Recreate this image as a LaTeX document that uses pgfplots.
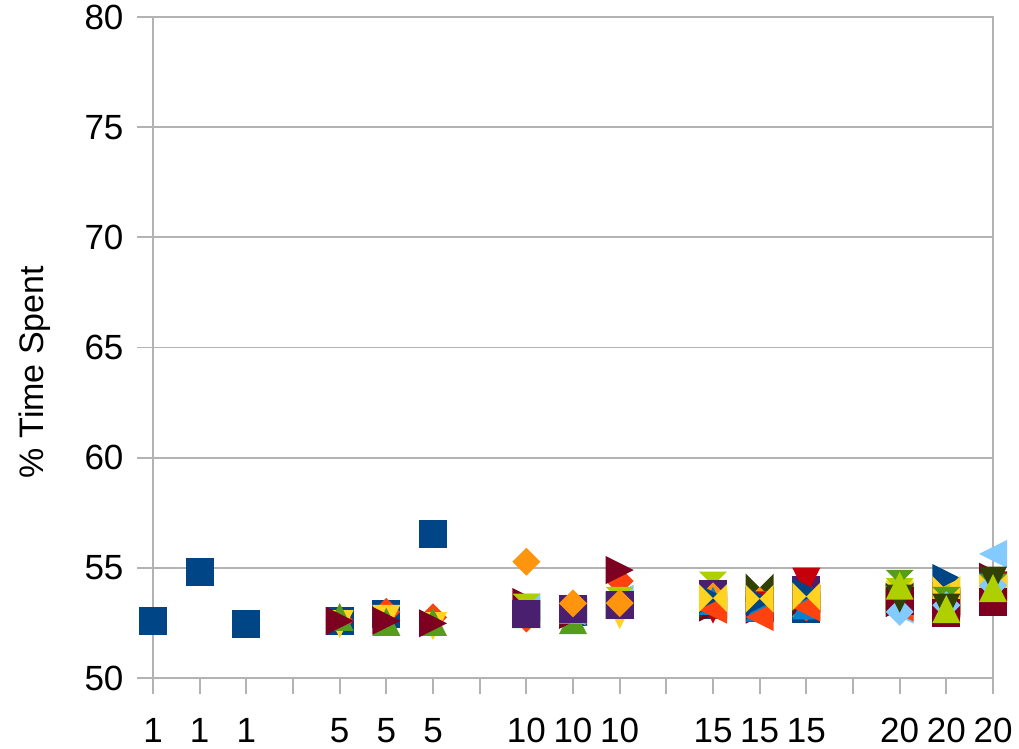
\documentclass[border=0pt]{standalone}
\usepackage{fontspec}
\setmainfont{Liberation Sans}
\usepackage{pgfplots}
\usepackage{pgfplotstable}
\pgfplotsset{compat=1.18}

\definecolor{lo1}{HTML}{004586}
\definecolor{lo2}{HTML}{FF420E}
\definecolor{lo3}{HTML}{FFD320}
\definecolor{lo4}{HTML}{579D1C}
\definecolor{lo5}{HTML}{7E0021}
\definecolor{lo6}{HTML}{83CAFF}
\definecolor{lo7}{HTML}{314004}
\definecolor{lo8}{HTML}{AECF00}
\definecolor{lo9}{HTML}{4B1F6F}
\definecolor{lo10}{HTML}{FF950E}
\definecolor{lo11}{HTML}{C5000B}
\definecolor{lo12}{HTML}{0084D1}
\definecolor{frame}{HTML}{B3B3B3}

% box-shaped symbols as in the office chart
\pgfdeclareplotmark{lo-sq}{%
  \pgfpathrectangle{\pgfqpoint{-\pgfplotmarksize}{-\pgfplotmarksize}}{\pgfqpoint{2\pgfplotmarksize}{2\pgfplotmarksize}}%
  \pgfusepathqfill}
\pgfdeclareplotmark{lo-dia}{%
  \pgfpathmoveto{\pgfqpoint{0pt}{\pgfplotmarksize}}%
  \pgfpathlineto{\pgfqpoint{\pgfplotmarksize}{0pt}}%
  \pgfpathlineto{\pgfqpoint{0pt}{-\pgfplotmarksize}}%
  \pgfpathlineto{\pgfqpoint{-\pgfplotmarksize}{0pt}}%
  \pgfpathclose\pgfusepathqfill}
\pgfdeclareplotmark{lo-dn}{%
  \pgfpathmoveto{\pgfqpoint{-\pgfplotmarksize}{\pgfplotmarksize}}%
  \pgfpathlineto{\pgfqpoint{\pgfplotmarksize}{\pgfplotmarksize}}%
  \pgfpathlineto{\pgfqpoint{0pt}{-\pgfplotmarksize}}%
  \pgfpathclose\pgfusepathqfill}
\pgfdeclareplotmark{lo-up}{%
  \pgfpathmoveto{\pgfqpoint{-\pgfplotmarksize}{-\pgfplotmarksize}}%
  \pgfpathlineto{\pgfqpoint{\pgfplotmarksize}{-\pgfplotmarksize}}%
  \pgfpathlineto{\pgfqpoint{0pt}{\pgfplotmarksize}}%
  \pgfpathclose\pgfusepathqfill}
\pgfdeclareplotmark{lo-rt}{%
  \pgfpathmoveto{\pgfqpoint{-\pgfplotmarksize}{\pgfplotmarksize}}%
  \pgfpathlineto{\pgfqpoint{-\pgfplotmarksize}{-\pgfplotmarksize}}%
  \pgfpathlineto{\pgfqpoint{\pgfplotmarksize}{0pt}}%
  \pgfpathclose\pgfusepathqfill}
\pgfdeclareplotmark{lo-lt}{%
  \pgfpathmoveto{\pgfqpoint{\pgfplotmarksize}{\pgfplotmarksize}}%
  \pgfpathlineto{\pgfqpoint{\pgfplotmarksize}{-\pgfplotmarksize}}%
  \pgfpathlineto{\pgfqpoint{-\pgfplotmarksize}{0pt}}%
  \pgfpathclose\pgfusepathqfill}
\pgfdeclareplotmark{lo-bow}{%
  \pgfpathmoveto{\pgfqpoint{-\pgfplotmarksize}{-\pgfplotmarksize}}%
  \pgfpathlineto{\pgfqpoint{-\pgfplotmarksize}{\pgfplotmarksize}}%
  \pgfpathlineto{\pgfqpoint{\pgfplotmarksize}{-\pgfplotmarksize}}%
  \pgfpathlineto{\pgfqpoint{\pgfplotmarksize}{\pgfplotmarksize}}%
  \pgfpathclose\pgfusepathqfill}
\pgfdeclareplotmark{lo-hg}{%
  \pgfpathmoveto{\pgfqpoint{-\pgfplotmarksize}{\pgfplotmarksize}}%
  \pgfpathlineto{\pgfqpoint{\pgfplotmarksize}{\pgfplotmarksize}}%
  \pgfpathlineto{\pgfqpoint{-\pgfplotmarksize}{-\pgfplotmarksize}}%
  \pgfpathlineto{\pgfqpoint{\pgfplotmarksize}{-\pgfplotmarksize}}%
  \pgfpathclose\pgfusepathqfill}

% x: slot on the category axis (3 runs per thread count, gap between groups)
\pgfplotstableread{
x  s1    s2    s3    s4    s5    s6    s7    s8    s9    s10   s11   s12   s13   s14   s15   s16   s17   s18   s19   s20
0  52.59 nan   nan   nan   nan   nan   nan   nan   nan   nan   nan   nan   nan   nan   nan   nan   nan   nan   nan   nan
1  54.81 nan   nan   nan   nan   nan   nan   nan   nan   nan   nan   nan   nan   nan   nan   nan   nan   nan   nan   nan
2  52.45 nan   nan   nan   nan   nan   nan   nan   nan   nan   nan   nan   nan   nan   nan   nan   nan   nan   nan   nan
4  52.59 52.60 52.45 52.77 52.59 nan   nan   nan   nan   nan   nan   nan   nan   nan   nan   nan   nan   nan   nan   nan
5  52.91 53.00 52.68 52.55 52.60 nan   nan   nan   nan   nan   nan   nan   nan   nan   nan   nan   nan   nan   nan   nan
6  56.54 52.75 52.36 52.55 52.48 nan   nan   nan   nan   nan   nan   nan   nan   nan   nan   nan   nan   nan   nan   nan
8  52.90 52.70 53.20 52.90 53.45 53.20 52.90 53.20 52.90 55.28 nan   nan   nan   nan   nan   nan   nan   nan   nan   nan
9  53.00 53.10 53.00 52.63 52.86 53.00 53.00 53.10 53.13 53.39 nan   nan   nan   nan   nan   nan   nan   nan   nan   nan
10 53.30 54.40 52.86 53.50 54.90 53.60 53.30 53.50 53.30 53.40 nan   nan   nan   nan   nan   nan   nan   nan   nan   nan
12 53.30 53.50 53.40 53.60 53.20 53.40 53.30 54.19 53.80 53.70 53.10 53.50 53.60 53.10 53.63 nan   nan   nan   nan   nan
13 53.50 53.20 53.40 53.30 53.10 53.30 54.10 53.30 53.20 53.50 53.30 53.20 53.50 52.77 53.60 nan   nan   nan   nan   nan
14 53.13 53.20 53.60 53.40 53.50 53.30 53.60 53.40 54.00 53.70 54.37 53.30 53.90 53.20 53.70 nan   nan   nan   nan   nan
16 53.50 53.30 53.80 53.60 53.40 53.10 53.70 53.90 53.60 53.50 53.20 53.70 53.60 53.20 53.60 54.27 53.50 53.00 53.60 54.19
17 53.70 53.30 53.90 53.40 53.20 53.30 53.50 53.60 53.40 53.20 53.10 53.20 54.54 53.40 54.00 53.50 52.95 53.30 53.20 53.13
18 54.00 53.90 54.10 54.00 54.60 55.63 54.20 54.00 54.10 54.00 54.20 54.30 54.20 54.00 54.10 54.10 53.45 54.20 54.42 54.08
}\runs

\begin{document}
\begin{tikzpicture}
\path[use as bounding box] (-153pt,-70pt) rectangle (866pt,678pt);
\begin{axis}[
    scale only axis,
    width=840pt, height=661pt,
    xmin=0, xmax=18, ymin=50, ymax=80,
    xtick={0,...,18},
    xticklabels={1,1,1,,5,5,5,,10,10,10,,15,15,15,,20,20,20},
    ytick={50,55,...,80},
    xtick pos=left, ytick pos=left,
    tick align=outside,
    major tick length=16pt,
    tick style={frame, line width=1.8pt},
    axis line style={frame, line width=1.8pt},
    ymajorgrids,
    major grid style={frame, line width=1.8pt},
    extra y ticks={50},
    extra y tick labels={},
    extra y tick style={grid style={frame, line width=3.5pt}},
    ticklabel style={font=\fontsize{35}{40}\selectfont},
    /pgf/number format/assume math mode=true,
    xticklabel style={anchor=north, yshift=-21pt},
    yticklabel style={anchor=east, xshift=-10pt},
    ylabel={\% Time Spent},
    ylabel style={font=\fontsize{34}{40}\selectfont, at={(axis description cs:-0.1405,0.463)}, anchor=center},
    only marks,
    mark size=14pt,
    clip=false,
    cycle list={
      {lo1,mark=lo-sq},{lo2,mark=lo-dia},{lo3,mark=lo-dn},{lo4,mark=lo-up},
      {lo5,mark=lo-rt},{lo6,mark=lo-lt},{lo7,mark=lo-bow},{lo8,mark=lo-hg},
      {lo9,mark=lo-sq},{lo10,mark=lo-dia},{lo11,mark=lo-dn},{lo12,mark=lo-up},
      {lo1,mark=lo-rt},{lo2,mark=lo-lt},{lo3,mark=lo-bow},{lo4,mark=lo-hg},
      {lo5,mark=lo-sq},{lo6,mark=lo-dia},{lo7,mark=lo-dn},{lo8,mark=lo-up}},
]
\pgfplotsinvokeforeach{1,...,20}{
  \addplot table[x=x, y=s#1]{\runs};
}
\end{axis}
\end{tikzpicture}
\end{document}
